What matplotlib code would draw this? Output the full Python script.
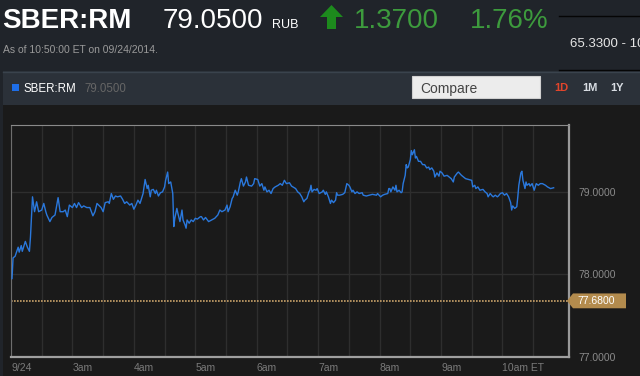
import matplotlib
matplotlib.use('Agg')
import matplotlib.pyplot as plt
import matplotlib.transforms as mtransforms
from matplotlib.patches import Rectangle, Polygon

# --- quote header ---
symbol = "SBER:RM"
last_px = "79.0500"
currency = "RUB"
chg = "1.3700"
chg_pct = "1.76%"
asof = "As of 10:50:00 ET on 09/24/2014."
day_range = "65.3300 - 10"
prev_close = 77.68

# --- intraday 9/24 (minutes after 02:00 ET, price) ---
mins = [1, 2, 4, 7, 8, 10, 11, 14, 16, 18, 19, 21, 23, 25, 27, 30, 32, 34, 35, 38,
        40, 43, 46, 48, 51, 53, 55, 57, 60, 62, 64, 66, 69, 71, 74, 77, 80, 82, 84, 88,
        90, 92, 95, 96, 98, 100, 102, 104, 107, 109, 111, 113, 116, 118, 120, 122, 124, 126, 129, 131,
        133, 134, 136, 137, 139, 141, 142, 144, 146, 148, 150, 151, 153, 154, 156, 158, 159, 160, 162, 163,
        165, 167, 168, 170, 171, 172, 174, 176, 178, 180, 182, 185, 186, 188, 190, 193, 196, 199, 202, 204,
        206, 209, 211, 212, 214, 216, 217, 219, 221, 222, 224, 225, 227, 229, 230, 232, 235, 237, 238, 241,
        243, 245, 247, 248, 250, 252, 254, 256, 258, 261, 263, 265, 267, 269, 272, 274, 278, 280, 282, 284,
        286, 287, 289, 291, 292, 293, 294, 296, 298, 299, 301, 304, 305, 307, 308, 310, 312, 313, 315, 317,
        318, 319, 321, 324, 326, 328, 330, 331, 333, 334, 336, 338, 340, 343, 344, 347, 350, 353, 357, 358,
        361, 363, 365, 368, 369, 370, 371, 373, 375, 376, 377, 379, 381, 382, 383, 385, 386, 387, 388, 390,
        391, 392, 394, 395, 396, 398, 400, 402, 404, 406, 408, 409, 411, 413, 414, 416, 418, 419, 421, 423,
        426, 428, 430, 432, 433, 436, 437, 440, 442, 444, 447, 450, 451, 453, 454, 456, 458, 461, 463, 465,
        466, 468, 470, 471, 473, 475, 476, 478, 480, 482, 484, 486, 488, 489, 490, 492, 494, 495, 496, 498,
        499, 500, 502, 503, 504, 506, 507, 509, 510, 511, 513, 515, 517, 519, 522, 524, 527, 530]
price = [77.95, 78.20, 78.22, 78.33, 78.27, 78.35, 78.28, 78.40, 78.33, 78.28, 78.45, 78.94, 78.76, 78.88, 78.76, 78.78, 78.86, 78.76, 78.72, 78.64,
         78.69, 78.72, 78.93, 78.76, 78.76, 78.78, 78.70, 78.84, 78.81, 78.86, 78.81, 78.87, 78.81, 78.83, 78.81, 78.81, 78.71, 78.76, 78.86, 78.81,
         78.76, 78.87, 78.88, 78.86, 78.98, 78.91, 78.95, 78.94, 78.95, 78.91, 78.86, 78.88, 78.84, 78.86, 78.79, 78.84, 78.90, 78.86, 78.98, 79.15,
         79.04, 79.08, 78.94, 79.02, 79.03, 78.98, 79.02, 78.95, 78.99, 79.00, 79.06, 79.14, 79.24, 79.10, 79.12, 78.98, 78.58, 78.68, 78.80, 78.74,
         78.64, 78.78, 78.66, 78.60, 78.56, 78.66, 78.62, 78.66, 78.64, 78.68, 78.67, 78.70, 78.70, 78.66, 78.69, 78.64, 78.66, 78.68, 78.72, 78.78,
         78.76, 78.78, 78.84, 78.76, 78.82, 78.92, 78.94, 79.02, 78.96, 79.00, 79.12, 79.16, 79.07, 79.12, 79.18, 79.08, 79.07, 79.10, 79.16, 79.15,
         79.07, 79.10, 79.02, 79.06, 79.00, 79.02, 78.98, 79.04, 79.06, 79.08, 79.10, 79.08, 79.14, 79.10, 79.11, 79.07, 79.04, 79.00, 78.98, 78.94,
         78.88, 78.90, 78.92, 79.00, 79.02, 79.08, 79.00, 79.03, 79.02, 79.04, 78.98, 79.00, 79.02, 78.97, 79.00, 78.94, 78.86, 78.90, 78.87, 78.90,
         78.99, 78.96, 78.96, 78.97, 78.99, 79.10, 79.08, 79.06, 79.00, 79.02, 78.98, 79.00, 78.98, 78.99, 78.96, 78.95, 78.96, 78.97, 78.96, 78.98,
         78.94, 78.96, 78.97, 78.98, 79.04, 79.04, 79.00, 79.06, 79.02, 79.08, 79.00, 79.02, 78.99, 79.00, 79.10, 79.20, 79.33, 79.29, 79.30, 79.39,
         79.50, 79.45, 79.51, 79.41, 79.43, 79.37, 79.37, 79.33, 79.33, 79.29, 79.30, 79.27, 79.29, 79.25, 79.18, 79.23, 79.19, 79.25, 79.23, 79.19,
         79.20, 79.18, 79.16, 79.12, 79.18, 79.23, 79.24, 79.20, 79.18, 79.16, 79.15, 79.14, 79.06, 79.08, 79.04, 79.06, 79.02, 79.03, 79.00, 78.98,
         78.94, 78.98, 78.95, 78.94, 78.96, 78.94, 78.95, 78.98, 78.99, 78.96, 78.98, 78.94, 78.87, 78.78, 78.83, 78.80, 78.82, 78.94, 79.08, 79.23,
         79.25, 79.14, 79.04, 79.12, 79.08, 79.10, 79.07, 79.10, 79.06, 79.02, 79.10, 79.08, 79.10, 79.10, 79.08, 79.06, 79.04, 79.05]

hour_labels = ["9/24", "3am", "4am", "5am", "6am", "7am", "8am", "9am", "10am ET"]
y_ticks = [77.0, 78.0, 79.0]

FONT = ['Liberation Sans', 'DejaVu Sans']
GREEN = '#3d9b3d'

fig = plt.figure(figsize=(6.4, 3.76), dpi=100)
fig.patch.set_facecolor('#20242a')

# pixel-space canvas for the page chrome
bg = fig.add_axes([0, 0, 1, 1])
bg.set_xlim(0, 640)
bg.set_ylim(376, 0)
bg.axis('off')
bg.add_patch(Rectangle((3, 71), 637, 34, fc='#2b3139', ec='none'))
bg.plot([3, 640], [71.5, 71.5], color='#3a434d', lw=1)
bg.add_patch(Rectangle((3, 105), 637, 271, fc='#1a1a1a', ec='none'))
bg.plot([559, 640], [16, 16], color='#050505', lw=1)
bg.plot([559, 640], [70, 70], color='#050505', lw=1)

# header
bg.text(2, 28, symbol, family=FONT, fontsize=20, fontweight='bold', color='white', va='baseline')
bg.text(163, 28, last_px, family=FONT, fontsize=20, color='white', va='baseline')
bg.text(272, 28, currency, family=FONT, fontsize=9, color='white', va='baseline')
bg.add_patch(Polygon([(320, 17), (331.5, 5), (343, 17), (336, 17), (336, 29),
                      (327, 29), (327, 17)], closed=True, fc='#1d8a1d', ec='none'))
bg.text(354, 28, chg, family=FONT, fontsize=20, color=GREEN, va='baseline')
bg.text(470, 28, chg_pct, family=FONT, fontsize=20, color=GREEN, va='baseline')
bg.text(3, 53, asof, family=FONT, fontsize=7.5, color='#9a9a9a', va='baseline')
bg.text(570, 47, day_range, family=FONT, fontsize=9.5, color='#e6e6e6', va='baseline')

# toolbar
bg.add_patch(Rectangle((12, 84), 7, 7, fc='#1e6ee8', ec='none'))
bg.text(24, 92, symbol, family=FONT, fontsize=8.3, color='white', va='baseline')
bg.text(84, 92, last_px, family=FONT, fontsize=8.3, color='#666666', va='baseline')
bg.add_patch(Rectangle((412, 76), 128, 22, fc='#ececec', ec='#d0d0d0', lw=0.8))
bg.text(420, 92.5, "Compare", family=FONT, fontsize=10, color='#444444', va='baseline')
bg.text(554, 91, "1D", family=FONT, fontsize=8, fontweight='bold', color='#e2452b', va='baseline')
bg.text(582, 91, "1M", family=FONT, fontsize=8, fontweight='bold', color='#d8dde3', va='baseline')
bg.text(610, 91, "1Y", family=FONT, fontsize=8, fontweight='bold', color='#d8dde3', va='baseline')

# price chart
ax = fig.add_axes([11 / 640, 19 / 376, 558 / 640, 232 / 376])
ax.set_facecolor('#1a1a1a')
ax.plot(mins, price, color='#2a78dc', lw=1.0, zorder=3)
ax.axhline(prev_close, color='#c9a26a', lw=1.2, linestyle=(0, (1.0, 0.8)), zorder=2)

ax.set_xlim(0, 545)
ax.set_ylim(77.0, 79.81)
xt = list(range(0, 511, 30))
ax.set_xticks(xt)
ax.set_xticklabels([hour_labels[i // 2] if i % 2 == 0 else '' for i in range(len(xt))])
for lbl in ax.get_xticklabels():
    lbl.set_horizontalalignment('left')
ax.set_yticks(y_ticks)
ax.set_yticklabels([f"{v:.4f}" for v in y_ticks])
ax.yaxis.tick_right()
ax.tick_params(axis='x', length=0, pad=4, labelsize=7.5, labelcolor='#7a7a7a')
ax.tick_params(axis='y', length=0, pad=6.5, labelsize=7.5, labelcolor='#8a8a8a')
for lbl in ax.get_xticklabels() + ax.get_yticklabels():
    lbl.set_family(FONT)
ax.grid(True, color='#2e2e2e', lw=1)

ax.spines['top'].set_color('#8a8a8a')
ax.spines['left'].set_color('#6e6e6e')
ax.spines['right'].set_color('#9a9a9a')
ax.spines['right'].set_linewidth(1.6)
ax.spines['bottom'].set_color('#a0a0a0')
ax.spines['bottom'].set_linewidth(1.6)

# previous close tag (x in axes fraction, y in price)
trans = mtransforms.blended_transform_factory(ax.transAxes, ax.transData)
w = 558.0
h = 0.09
ax.add_patch(Polygon([(1 - 2 / w, prev_close), (1 + 4 / w, prev_close + h),
                      (1 + 57 / w, prev_close + h), (1 + 57 / w, prev_close - h),
                      (1 + 4 / w, prev_close - h)], closed=True, transform=trans,
                     fc='#b38b4d', ec='none', clip_on=False, zorder=5))
ax.text(1 + 8 / w, prev_close, f"{prev_close:.4f}", transform=trans, family=FONT,
        fontsize=7.5, color='white', va='center', ha='left', clip_on=False, zorder=6)

fig.savefig('out.png', dpi=100, facecolor=fig.get_facecolor())
